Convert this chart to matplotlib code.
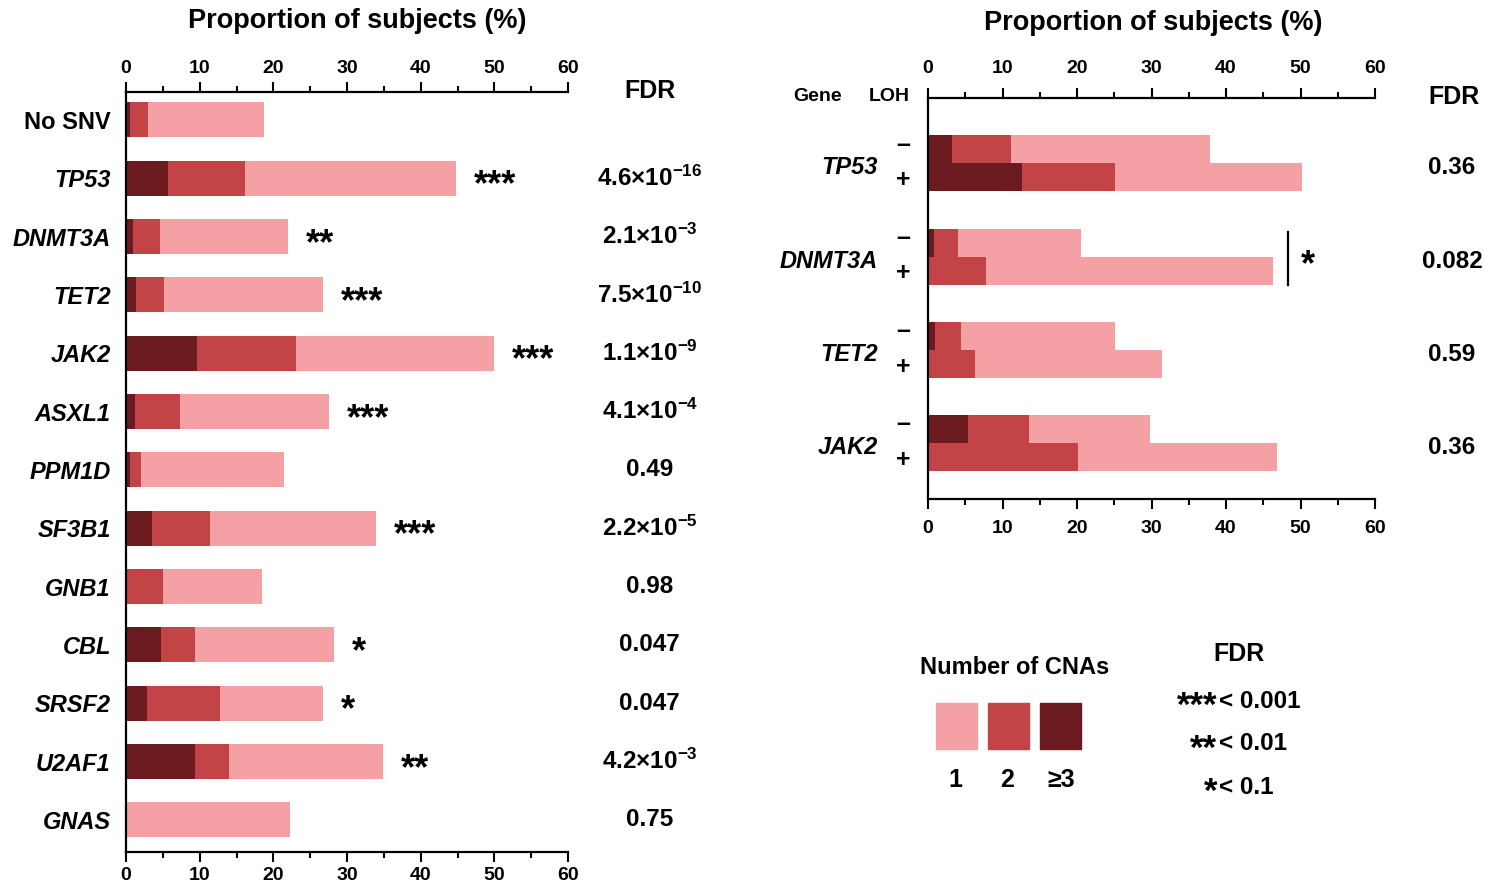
import matplotlib
matplotlib.use("Agg")
import matplotlib.pyplot as plt
from matplotlib.ticker import MultipleLocator
from matplotlib.patches import Rectangle
import matplotlib.transforms as mtransforms

plt.rcParams['font.family'] = ['Liberation Sans', 'DejaVu Sans']
plt.rcParams['font.weight'] = 'bold'
plt.rcParams['mathtext.fontset'] = 'custom'
plt.rcParams['mathtext.rm'] = 'Liberation Sans:bold'
plt.rcParams['mathtext.it'] = 'Liberation Sans:bold:italic'
plt.rcParams['mathtext.bf'] = 'Liberation Sans:bold'

# colours for 1, 2, >=3 CNAs
c1, c2, c3 = "#F5A0A4", "#C34447", "#6B1B1F"

# left panel data (percent of subjects)
genes = ["No SNV", "TP53", "DNMT3A", "TET2", "JAK2", "ASXL1", "PPM1D",
         "SF3B1", "GNB1", "CBL", "SRSF2", "U2AF1", "GNAS"]
cna3 = [0.6, 5.7, 0.9, 1.3, 9.7, 1.2, 0.6, 3.5, 0.0, 4.7, 2.8, 9.3, 0.0]
cna2 = [2.4, 10.4, 3.7, 3.8, 13.4, 6.1, 1.4, 7.9, 5.0, 4.7, 9.9, 4.7, 0.0]
cna1 = [15.7, 28.7, 17.4, 21.7, 26.9, 20.3, 19.4, 22.6, 13.4, 18.8, 14.1, 20.9, 22.2]
stars = ["", "***", "**", "***", "***", "***", "", "***", "", "*", "*", "**", ""]
fdr = ["", r"$4.6{\times}10^{-16}$", r"$2.1{\times}10^{-3}$", r"$7.5{\times}10^{-10}$",
       r"$1.1{\times}10^{-9}$", r"$4.1{\times}10^{-4}$", "0.49", r"$2.2{\times}10^{-5}$",
       "0.98", "0.047", "0.047", r"$4.2{\times}10^{-3}$", "0.75"]

# right panel data, LOH - and LOH +
genes_r = ["TP53", "DNMT3A", "TET2", "JAK2"]
neg3 = [3.2, 0.75, 0.9, 5.4]
neg2 = [7.9, 3.25, 3.5, 8.2]
neg1 = [26.8, 16.6, 20.7, 16.15]
pos3 = [12.6, 0.0, 0.0, 0.0]
pos2 = [12.5, 7.75, 6.25, 20.1]
pos1 = [25.1, 38.5, 25.15, 26.7]
fdr_r = ["0.36", "0.082", "0.59", "0.36"]

W, H = 1501, 890
fig = plt.figure(figsize=(W / 100, H / 100), dpi=100)


def px(x, y):
    return x / W, 1 - y / H


def style_axis(ax, pad):
    ax.set_xlim(0, 60)
    ax.xaxis.set_major_locator(MultipleLocator(10))
    ax.xaxis.set_minor_locator(MultipleLocator(5))
    ax.xaxis.set_ticks_position('both')
    ax.tick_params(axis='x', which='both', labeltop=True, labelbottom=True,
                   direction='out', width=1.5, labelsize=14, pad=pad)
    ax.tick_params(axis='x', which='major', length=7)
    ax.tick_params(axis='x', which='minor', length=4)
    ax.tick_params(axis='y', length=0)
    for s in ['top', 'bottom', 'left']:
        ax.spines[s].set_linewidth(1.6)
    ax.spines['right'].set_visible(False)
    for lab in ax.get_xticklabels():
        lab.set_fontweight('bold')


# ---- left panel ----
ax = fig.add_axes([126 / W, 1 - 852 / H, 442 / W, 760 / H])
ys = list(range(len(genes)))
left2 = [a for a in cna3]
left1 = [a + b for a, b in zip(cna3, cna2)]
ax.barh(ys, cna3, height=0.6, color=c3)
ax.barh(ys, cna2, left=left2, height=0.6, color=c2)
ax.barh(ys, cna1, left=left1, height=0.6, color=c1)
ax.set_ylim(12.55, -0.48)
style_axis(ax, 4)
ax.set_yticks(ys)
ax.set_yticklabels(genes, fontsize=17)
ax.tick_params(axis='y', pad=11)
for i, lab in enumerate(ax.get_yticklabels()):
    lab.set_fontweight('bold')
    if i > 0:
        lab.set_fontstyle('italic')

trans = mtransforms.blended_transform_factory(ax.transAxes, ax.transData)
for i in ys:
    tot = cna3[i] + cna2[i] + cna1[i]
    if stars[i]:
        ax.text(tot + 2.4, i + 0.13, stars[i], fontsize=26, fontweight='bold',
                ha='left', va='center')
    if fdr[i]:
        ax.text(1.185, i, fdr[i], transform=trans, fontsize=17.5,
                ha='center', va='center', fontweight='bold')
ax.text(1.185, -0.5, "FDR", transform=trans, fontsize=18, ha='center',
        va='center', fontweight='bold')
fig.text(*px(357, 21), "Proportion of subjects (%)", fontsize=19.5,
         fontweight='bold', ha='center', va='center')

# ---- right panel ----
ax2 = fig.add_axes([928 / W, 1 - 499 / H, 447 / W, 401 / H])
g = list(range(len(genes_r)))
yn = [v - 0.15 for v in g]
yp = [v + 0.15 for v in g]
ax2.barh(yn, neg3, height=0.3, color=c3)
ax2.barh(yn, neg2, left=neg3, height=0.3, color=c2)
ax2.barh(yn, neg1, left=[a + b for a, b in zip(neg3, neg2)], height=0.3, color=c1)
ax2.barh(yp, pos3, height=0.3, color=c3)
ax2.barh(yp, pos2, left=pos3, height=0.3, color=c2)
ax2.barh(yp, pos1, left=[a + b for a, b in zip(pos3, pos2)], height=0.3, color=c1)
ax2.set_ylim(3.6, -0.70)
style_axis(ax2, 8)
ax2.set_yticks([])

trans2 = mtransforms.blended_transform_factory(ax2.transAxes, ax2.transData)
for i, name in enumerate(genes_r):
    ax2.text(-0.112, i + 0.05, name, transform=trans2, fontsize=17,
             fontstyle='italic', fontweight='bold', ha='right', va='center')
    ax2.text(-0.056, i - 0.2, "\u2013", transform=trans2, fontsize=18,
             fontweight='bold', ha='center', va='center')
    ax2.text(-0.056, i + 0.18, "+", transform=trans2, fontsize=18,
             fontweight='bold', ha='center', va='center')
    ax2.text(1.172, i + 0.05, fdr_r[i], transform=trans2, fontsize=17.5,
             fontweight='bold', ha='center', va='center')
ax2.text(-0.246, -0.72, "Gene", transform=trans2, fontsize=14,
         fontweight='bold', ha='center', va='center')
ax2.text(-0.087, -0.72, "LOH", transform=trans2, fontsize=14,
         fontweight='bold', ha='center', va='center')
ax2.text(1.176, -0.71, "FDR", transform=trans2, fontsize=18,
         fontweight='bold', ha='center', va='center')
# DNMT3A significance bracket
ax2.plot([48.3, 48.3], [0.74, 1.31], color='black', lw=1.6, clip_on=False)
ax2.text(51.0, 1.1, "*", fontsize=26, fontweight='bold', ha='center', va='center')
fig.text(*px(1153, 23), "Proportion of subjects (%)", fontsize=19.5,
         fontweight='bold', ha='center', va='center')

# ---- legend ----
fig.text(*px(1015, 667), "Number of CNAs", fontsize=17, fontweight='bold',
         ha='center', va='center')
leg_cols = [c1, c2, c3]
leg_labs = ["1", "2", "\u22653"]
for k in range(3):
    x0 = 936 + 52 * k
    fig.add_artist(Rectangle(px(x0, 749), 41 / W, 46 / H, color=leg_cols[k],
                             transform=fig.transFigure))
    fig.text(*px(x0 + 19 if k < 2 else x0 + 21, 780), leg_labs[k], fontsize=18,
             fontweight='bold', ha='center', va='center')

key_stars = ["***", "**", "*"]
key_vals = ["< 0.001", "< 0.01", "< 0.1"]
fig.text(*px(1239, 654), "FDR", fontsize=18, fontweight='bold',
         ha='center', va='center')
for k in range(3):
    yk = 701 + 43 * k
    fig.text(*px(1217, yk + 5), key_stars[k], fontsize=25, fontweight='bold',
             ha='right', va='center')
    fig.text(*px(1219, yk), key_vals[k], fontsize=17.5, fontweight='bold',
             ha='left', va='center')

fig.savefig("out.png", dpi=100)
